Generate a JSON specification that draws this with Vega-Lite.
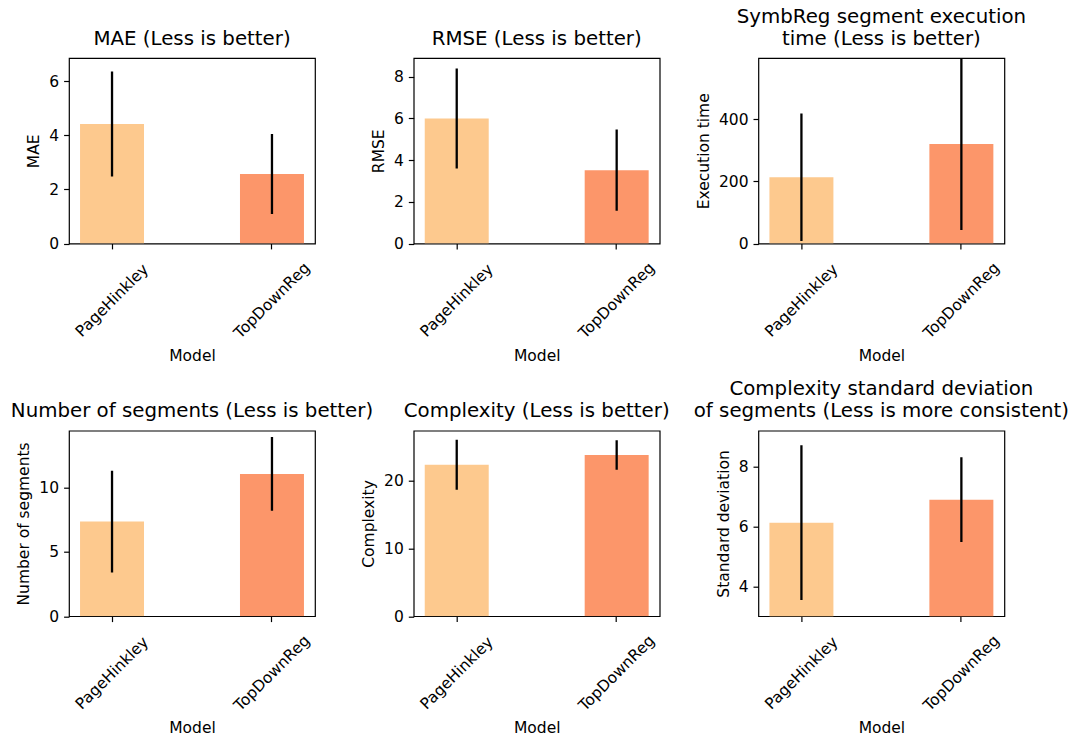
{
  "$schema": "https://vega.github.io/schema/vega-lite/v6.json",
  "background": "white",
  "padding": {"left": 10, "top": 5, "right": 0, "bottom": 0},
  "datasets": {
    "results": [
      {"metric": "MAE", "model": "PageHinkley", "value": 4.42, "err": 1.94},
      {"metric": "MAE", "model": "TopDownReg", "value": 2.57, "err": 1.48},
      {"metric": "RMSE", "model": "PageHinkley", "value": 6.0, "err": 2.4},
      {"metric": "RMSE", "model": "TopDownReg", "value": 3.52, "err": 1.95},
      {"metric": "Execution time", "model": "PageHinkley", "value": 213, "err": 205},
      {"metric": "Execution time", "model": "TopDownReg", "value": 319.5, "err": 276.5},
      {"metric": "Segments", "model": "PageHinkley", "value": 7.36, "err": 3.96},
      {"metric": "Segments", "model": "TopDownReg", "value": 11.07, "err": 2.87},
      {"metric": "Complexity", "model": "PageHinkley", "value": 22.38, "err": 3.7},
      {"metric": "Complexity", "model": "TopDownReg", "value": 23.84, "err": 2.17},
      {"metric": "Complexity std", "model": "PageHinkley", "value": 6.13, "err": 2.59},
      {"metric": "Complexity std", "model": "TopDownReg", "value": 6.9, "err": 1.42}
    ]
  },
  "data": {"name": "results"},
  "columns": 3,
  "spacing": {"row": 186.7, "column": 98.7},
  "bounds": "flush",
  "concat": [
    {
      "title": "MAE (Less is better)",
      "width": 246, "height": 185.5,
      "transform": [{"filter": "datum.metric === 'MAE'"}],
      "encoding": {
        "x": {"field": "model", "type": "nominal", "title": "Model", "scale": {"paddingInner": 0.6, "paddingOuter": 0.069}},
        "y": {"field": "value", "type": "quantitative", "title": "MAE", "scale": {"domain": [0, 6.86]}, "axis": {"values": [0, 2, 4, 6]}}
      },
      "layer": [
        {"mark": {"type": "bar", "clip": true}, "encoding": {"color": {"field": "model", "type": "nominal", "scale": {"domain": ["PageHinkley", "TopDownReg"], "range": ["#fdc98e", "#fc966a"]}, "legend": null}}},
        {"mark": {"type": "errorbar", "clip": true, "color": "black", "rule": {"strokeWidth": 2.3}}, "encoding": {"yError": {"field": "err"}}}
      ]
    },
    {
      "title": "RMSE (Less is better)",
      "width": 246, "height": 185.5,
      "transform": [{"filter": "datum.metric === 'RMSE'"}],
      "encoding": {
        "x": {"field": "model", "type": "nominal", "title": "Model", "scale": {"paddingInner": 0.6, "paddingOuter": 0.069}},
        "y": {"field": "value", "type": "quantitative", "title": "RMSE", "scale": {"domain": [0, 8.9]}, "axis": {"values": [0, 2, 4, 6, 8]}}
      },
      "layer": [
        {"mark": {"type": "bar", "clip": true}, "encoding": {"color": {"field": "model", "type": "nominal", "scale": {"domain": ["PageHinkley", "TopDownReg"], "range": ["#fdc98e", "#fc966a"]}, "legend": null}}},
        {"mark": {"type": "errorbar", "clip": true, "color": "black", "rule": {"strokeWidth": 2.3}}, "encoding": {"yError": {"field": "err"}}}
      ]
    },
    {
      "title": {"text": ["SymbReg segment execution", "time (Less is better)"]},
      "width": 246, "height": 185.5,
      "transform": [{"filter": "datum.metric === 'Execution time'"}],
      "encoding": {
        "x": {"field": "model", "type": "nominal", "title": "Model", "scale": {"paddingInner": 0.6, "paddingOuter": 0.069}},
        "y": {"field": "value", "type": "quantitative", "title": "Execution time", "scale": {"domain": [0, 596]}, "axis": {"values": [0, 200, 400]}}
      },
      "layer": [
        {"mark": {"type": "bar", "clip": true}, "encoding": {"color": {"field": "model", "type": "nominal", "scale": {"domain": ["PageHinkley", "TopDownReg"], "range": ["#fdc98e", "#fc966a"]}, "legend": null}}},
        {"mark": {"type": "errorbar", "clip": true, "color": "black", "rule": {"strokeWidth": 2.3}}, "encoding": {"yError": {"field": "err"}}}
      ]
    },
    {
      "title": "Number of segments (Less is better)",
      "width": 246, "height": 185.5,
      "transform": [{"filter": "datum.metric === 'Segments'"}],
      "encoding": {
        "x": {"field": "model", "type": "nominal", "title": "Model", "scale": {"paddingInner": 0.6, "paddingOuter": 0.069}},
        "y": {"field": "value", "type": "quantitative", "title": "Number of segments", "scale": {"domain": [0, 14.43]}, "axis": {"values": [0, 5, 10]}}
      },
      "layer": [
        {"mark": {"type": "bar", "clip": true}, "encoding": {"color": {"field": "model", "type": "nominal", "scale": {"domain": ["PageHinkley", "TopDownReg"], "range": ["#fdc98e", "#fc966a"]}, "legend": null}}},
        {"mark": {"type": "errorbar", "clip": true, "color": "black", "rule": {"strokeWidth": 2.3}}, "encoding": {"yError": {"field": "err"}}}
      ]
    },
    {
      "title": "Complexity (Less is better)",
      "width": 246, "height": 185.5,
      "transform": [{"filter": "datum.metric === 'Complexity'"}],
      "encoding": {
        "x": {"field": "model", "type": "nominal", "title": "Model", "scale": {"paddingInner": 0.6, "paddingOuter": 0.069}},
        "y": {"field": "value", "type": "quantitative", "title": "Complexity", "scale": {"domain": [0, 27.43]}, "axis": {"values": [0, 10, 20]}}
      },
      "layer": [
        {"mark": {"type": "bar", "clip": true}, "encoding": {"color": {"field": "model", "type": "nominal", "scale": {"domain": ["PageHinkley", "TopDownReg"], "range": ["#fdc98e", "#fc966a"]}, "legend": null}}},
        {"mark": {"type": "errorbar", "clip": true, "color": "black", "rule": {"strokeWidth": 2.3}}, "encoding": {"yError": {"field": "err"}}}
      ]
    },
    {
      "title": {"text": ["Complexity standard deviation", "of segments (Less is more consistent)"]},
      "width": 246, "height": 185.5,
      "transform": [{"filter": "datum.metric === 'Complexity std'"}],
      "encoding": {
        "x": {"field": "model", "type": "nominal", "title": "Model", "scale": {"paddingInner": 0.6, "paddingOuter": 0.069}},
        "y": {"field": "value", "type": "quantitative", "title": "Standard deviation", "scale": {"domain": [3.0, 9.21], "zero": false}, "axis": {"values": [4, 6, 8]}}
      },
      "layer": [
        {"mark": {"type": "bar", "clip": true}, "encoding": {"color": {"field": "model", "type": "nominal", "scale": {"domain": ["PageHinkley", "TopDownReg"], "range": ["#fdc98e", "#fc966a"]}, "legend": null}}},
        {"mark": {"type": "errorbar", "clip": true, "color": "black", "rule": {"strokeWidth": 2.3}}, "encoding": {"yError": {"field": "err"}}}
      ]
    }
  ],
  "resolve": {"scale": {"y": "independent", "x": "independent"}},
  "config": {
    "font": "DejaVu Sans",
    "view": {"stroke": "#000", "strokeWidth": 1.2},
    "bar": {"opacity": 1},
    "title": {"fontSize": 19.8, "font": "DejaVu Sans", "fontWeight": "normal", "color": "#000", "anchor": "middle", "baseline": "alphabetic", "offset": 9.7, "lineHeight": 22},
    "axis": {
      "grid": false,
      "domain": false,
      "ticks": true,
      "tickColor": "#000",
      "tickWidth": 1.2,
      "tickSize": 5.4,
      "labelFont": "DejaVu Sans",
      "labelFontSize": 15.5,
      "labelColor": "#000",
      "labelPadding": 5,
      "titleFont": "DejaVu Sans",
      "titleFontSize": 15.5,
      "titleFontWeight": "normal",
      "titleColor": "#000",
      "titlePadding": 7
    },
    "axisX": {
      "labelAngle": -45,
      "labelAlign": "center",
      "labelBaseline": "middle",
      "labelPadding": 51,
      "titlePadding": 7
    }
  }
}
